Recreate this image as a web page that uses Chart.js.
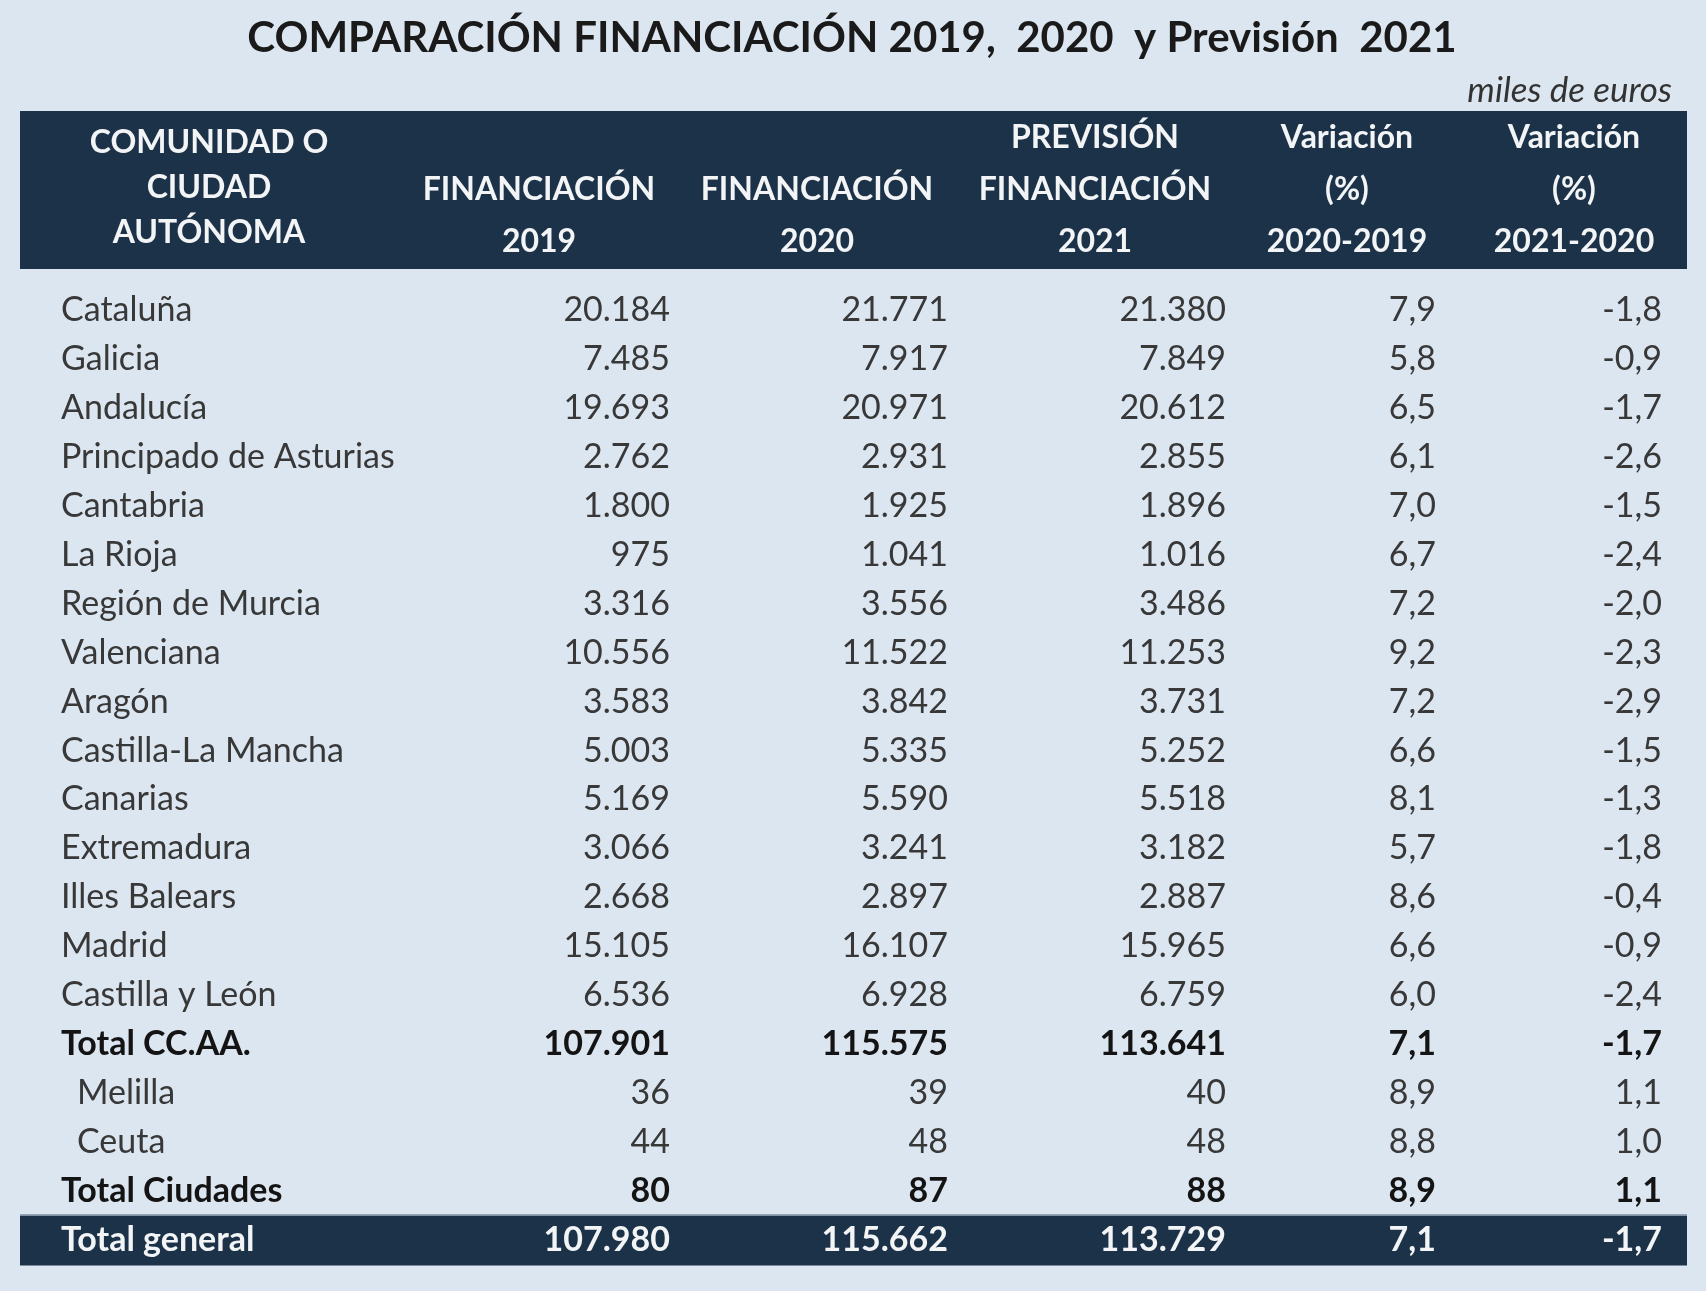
<!DOCTYPE html>
<html lang="es">
<head>
<meta charset="utf-8">
<title>Comparación financiación 2019, 2020 y previsión 2021</title>
<script src="https://cdn.jsdelivr.net/npm/chart.js@4/dist/chart.umd.min.js"></script>
<style>
    html, body { margin: 0; padding: 0; background: #dce6f1; }
    #wrap { width: 1706px; height: 1291px; position: relative; }
</style>
</head>
<body>
<div id="wrap"><canvas id="tabla"></canvas></div>
<script>
// ==================== DATA ====================
const titleText = 'COMPARACIÓN FINANCIACIÓN 2019,  2020  y Previsión  2021';
const unitText = 'miles de euros';

const headers = [
    ['COMUNIDAD O', 'CIUDAD', 'AUTÓNOMA'],
    ['FINANCIACIÓN', '2019'],
    ['FINANCIACIÓN', '2020'],
    ['PREVISIÓN', 'FINANCIACIÓN', '2021'],
    ['Variación', '(%)', '2020-2019'],
    ['Variación', '(%)', '2021-2020']
];

const regions = [
    'Cataluña', 'Galicia', 'Andalucía', 'Principado de Asturias', 'Cantabria',
    'La Rioja', 'Región de Murcia', 'Valenciana', 'Aragón', 'Castilla-La Mancha',
    'Canarias', 'Extremadura', 'Illes Balears', 'Madrid', 'Castilla y León',
    'Total CC.AA.', 'Melilla', 'Ceuta', 'Total Ciudades', 'Total general'
];

const fin2019 = [20184, 7485, 19693, 2762, 1800, 975, 3316, 10556, 3583, 5003,
    5169, 3066, 2668, 15105, 6536, 107901, 36, 44, 80, 107980];
const fin2020 = [21771, 7917, 20971, 2931, 1925, 1041, 3556, 11522, 3842, 5335,
    5590, 3241, 2897, 16107, 6928, 115575, 39, 48, 87, 115662];
const prev2021 = [21380, 7849, 20612, 2855, 1896, 1016, 3486, 11253, 3731, 5252,
    5518, 3182, 2887, 15965, 6759, 113641, 40, 48, 88, 113729];
const var2020 = [7.9, 5.8, 6.5, 6.1, 7.0, 6.7, 7.2, 9.2, 7.2, 6.6,
    8.1, 5.7, 8.6, 6.6, 6.0, 7.1, 8.9, 8.8, 8.9, 7.1];
const var2021 = [-1.8, -0.9, -1.7, -2.6, -1.5, -2.4, -2.0, -2.3, -2.9, -1.5,
    -1.3, -1.8, -0.4, -0.9, -2.4, -1.7, 1.1, 1.0, 1.1, -1.7];

const boldRows = ['Total CC.AA.', 'Total Ciudades', 'Total general'];
const indentRows = ['Melilla', 'Ceuta'];
const footerRow = 'Total general';

// ==================== LAYOUT & STYLE ====================
const FONT = 'Lato, "Open Sans", sans-serif';
const colors = {
    bg: '#dce6f1',
    band: '#1c3249',
    bandText: '#f2f4f6',
    text: '#383838',
    bold: '#141414'
};
const labelLeft = 61;
const indentLeft = 77;
const numRight = [670, 948, 1226, 1436, 1662];
const headCenter = [209, 539, 817, 1095, 1347, 1574];

// ==================== HELPERS ====================
function fmtMiles(v) {
    return String(Math.round(v)).replace(/\B(?=(\d{3})+(?!\d))/g, '.');
}

function fmtPct(v) {
    return v.toFixed(1).replace('.', ',');
}

const columns = [
    { values: fin2019, fmt: fmtMiles },
    { values: fin2020, fmt: fmtMiles },
    { values: prev2021, fmt: fmtMiles },
    { values: var2020, fmt: fmtPct },
    { values: var2021, fmt: fmtPct }
];

// ==================== TABLE PLUGIN ====================
const tablePlugin = {
    id: 'tablePlugin',
    beforeDraw(chart) {
        const ctx = chart.ctx;
        const y = chart.scales.y;
        ctx.save();
        ctx.fillStyle = colors.bg;
        ctx.fillRect(0, 0, chart.width, chart.height);

        // header band
        ctx.fillStyle = colors.band;
        ctx.fillRect(20, 111, 1667, 158);

        // footer band (Total general row)
        const rowH = y.getPixelForValue(1) - y.getPixelForValue(0);
        const fy = y.getPixelForValue(regions.indexOf(footerRow));
        ctx.fillRect(20, fy - rowH / 2 + 0.5, 1667, rowH + 1);
        ctx.strokeStyle = '#7d8ea3';
        ctx.lineWidth = 1.5;
        ctx.beginPath();
        ctx.moveTo(20, fy - rowH / 2);
        ctx.lineTo(1687, fy - rowH / 2);
        ctx.stroke();
        ctx.restore();
    },
    afterDatasetsDraw(chart) {
        const ctx = chart.ctx;
        ctx.save();
        ctx.textBaseline = 'middle';

        // title
        ctx.fillStyle = '#1a1a1a';
        ctx.font = 'bold 42px ' + FONT;
        ctx.textAlign = 'center';
        ctx.fillText(titleText, 852, 38);

        // unit note
        ctx.font = 'italic 35px ' + FONT;
        ctx.fillStyle = '#333';
        ctx.textAlign = 'right';
        ctx.fillText(unitText, 1672, 91);

        // column headers
        ctx.fillStyle = colors.bandText;
        ctx.font = 'bold 32px ' + FONT;
        ctx.textAlign = 'center';
        headers.forEach((lines, c) => {
            let ys;
            if (c === 0) ys = [143, 188, 233];
            else if (lines.length === 2) ys = [190, 242];
            else ys = [138, 190, 242];
            lines.forEach((t, k) => ctx.fillText(t, headCenter[c], ys[k]));
        });

        // body cells, placed from the dataset points
        chart.data.datasets.forEach((ds, di) => {
            const meta = chart.getDatasetMeta(di);
            meta.data.forEach((pt, i) => {
                const name = regions[i];
                const isBold = boldRows.includes(name);
                const onBand = name === footerRow;
                ctx.font = (isBold ? 'bold ' : '') + '34px ' + FONT;
                ctx.fillStyle = onBand ? colors.bandText : (isBold ? colors.bold : colors.text);
                if (di === 0) {
                    ctx.textAlign = 'left';
                    ctx.fillText(name, pt.x, pt.y);
                } else {
                    ctx.textAlign = 'right';
                    ctx.fillText(ds.fmt(ds.values[i]), pt.x, pt.y);
                }
            });
        });
        ctx.restore();
    }
};

// ==================== CHART ====================
const datasets = [{
    label: 'Comunidad',
    data: regions.map(r => ({ x: indentRows.includes(r) ? indentLeft : labelLeft, y: r })),
    pointRadius: 0
}].concat(columns.map((col, c) => ({
    label: headers[c + 1].join(' '),
    data: regions.map(r => ({ x: numRight[c], y: r })),
    values: col.values,
    fmt: col.fmt,
    pointRadius: 0
})));

new Chart(document.getElementById('tabla'), {
    type: 'scatter',
    data: { datasets: datasets },
    options: {
        responsive: true,
        maintainAspectRatio: false,
        animation: false,
        events: [],
        layout: { padding: { top: 286, bottom: 27, left: 0, right: 0 } },
        plugins: {
            legend: { display: false },
            tooltip: { enabled: false },
            title: { display: false }
        },
        scales: {
            x: { type: 'linear', min: 0, max: 1706, display: false },
            y: { type: 'category', labels: regions, offset: true, display: false }
        }
    },
    plugins: [tablePlugin]
});
</script>
</body>
</html>
